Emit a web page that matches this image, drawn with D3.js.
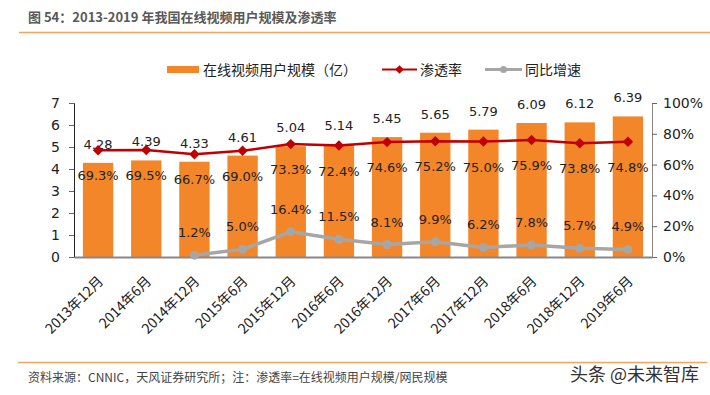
<!DOCTYPE html>
<html><head><meta charset="utf-8">
<script src="https://cdn.jsdelivr.net/npm/d3@7"></script>
<style>body{margin:0;background:#fff}svg{display:block}</style>
</head><body>
<script>
const categories = ["2013年12月","2014年6月","2014年12月","2015年6月","2015年12月","2016年6月","2016年12月","2017年6月","2017年12月","2018年6月","2018年12月","2019年6月"];
const users = [4.28,4.39,4.33,4.61,5.04,5.14,5.45,5.65,5.79,6.09,6.12,6.39];
const penetration = [69.3,69.5,66.7,69.0,73.3,72.4,74.6,75.2,75.0,75.9,73.8,74.8];
const growth = [null,null,1.2,5.0,16.4,11.5,8.1,9.9,6.2,7.8,5.7,4.9];
const leftTicks = [0,1,2,3,4,5,6,7];
const rightTicks = [0,20,40,60,80,100];

const W=710,H=395;
const svg=d3.select("body").append("svg").attr("width",W).attr("height",H);
const num="'DejaVu Sans', Verdana, sans-serif";
const cjk="'Noto Sans CJK SC', sans-serif";
const orange="#F4862A", red="#C00000", gray="#A6A6A6";

// title
svg.append("text").attr("x",28).attr("y",22).attr("font-family",cjk).attr("font-weight","bold")
  .attr("font-size",13).attr("fill","#595959").text("图 54：2013-2019 年我国在线视频用户规模及渗透率");
svg.append("line").attr("x1",19).attr("x2",710).attr("y1",32.5).attr("y2",32.5).attr("stroke","#F4A460").attr("stroke-width",1.5);

const x=d3.scaleBand().domain(categories).range([74,652]).paddingInner(0.37).paddingOuter(0.185);
const yL=d3.scaleLinear().domain([0,7]).range([257,103]);
const yR=d3.scaleLinear().domain([0,100]).range([257,103]);

// bars
svg.selectAll("rect.bar").data(users).join("rect").attr("class","bar")
  .attr("x",(d,i)=>x(categories[i])).attr("width",x.bandwidth())
  .attr("y",d=>yL(d)).attr("height",d=>yL(0)-yL(d)).attr("fill",orange);

// axes
const gL=svg.append("g").attr("transform","translate(74,0)").call(d3.axisLeft(yL).tickValues(leftTicks).tickSize(5).tickPadding(9).tickFormat(d3.format("d")));
gL.select(".domain").attr("stroke","#222");
gL.selectAll(".tick line").attr("stroke","#666");
gL.selectAll("text").attr("font-family",num).attr("font-size",14).attr("fill","#222");

const gR=svg.append("g").attr("transform","translate(652,0)").call(d3.axisRight(yR).tickValues(rightTicks).tickSize(5).tickPadding(6).tickFormat(d=>d+"%"));
gR.select(".domain").attr("stroke","#888");
gR.selectAll(".tick line").attr("stroke","#666");
gR.selectAll("text").attr("font-family",num).attr("font-size",14).attr("fill","#222");

const gB=svg.append("g").attr("transform","translate(0,257)").call(d3.axisBottom(x).tickSize(0).tickPadding(0));
gB.select(".domain").attr("stroke","#888").attr("stroke-width",2);
gB.selectAll("text").attr("font-family",cjk).attr("font-size",14).attr("fill","#222")
  .attr("text-anchor","end").attr("y",0).attr("dy",0).attr("transform","translate(6,25) rotate(-45)");

// bar labels
svg.selectAll("text.bl").data(users).join("text").attr("class","bl")
  .attr("x",(d,i)=>x(categories[i])+x.bandwidth()/2).attr("y",d=>yL(d)-14)
  .attr("text-anchor","middle").attr("font-family",num).attr("font-size",13).attr("fill","#222").text(d=>d.toFixed(2));

const cx=i=>x(categories[i])+x.bandwidth()/2;
// penetration line
svg.append("path").datum(penetration).attr("fill","none").attr("stroke",red).attr("stroke-width",2.5)
  .attr("d",d3.line().x((d,i)=>cx(i)).y(d=>yR(d)));
svg.selectAll("path.dm").data(penetration).join("path").attr("class","dm")
  .attr("transform",(d,i)=>`translate(${cx(i)},${yR(d)})`)
  .attr("d",d3.symbol(d3.symbolDiamond2,70)()).attr("fill",red);
svg.selectAll("text.pl").data(penetration).join("text").attr("class","pl")
  .attr("x",(d,i)=>cx(i)).attr("y",d=>yR(d)+30)
  .attr("text-anchor","middle").attr("font-family",num).attr("font-size",13).attr("fill","#222").text(d=>d.toFixed(1)+"%");

// growth line
const gIdx=growth.map((d,i)=>[d,i]).filter(p=>p[0]!==null);
svg.append("path").datum(gIdx).attr("fill","none").attr("stroke",gray).attr("stroke-width",3.5)
  .attr("d",d3.line().x(p=>cx(p[1])).y(p=>yR(p[0])));
svg.selectAll("circle.gc").data(gIdx).join("circle").attr("class","gc")
  .attr("cx",p=>cx(p[1])).attr("cy",p=>yR(p[0])).attr("r",4.5).attr("fill",gray);
svg.selectAll("text.gl").data(gIdx).join("text").attr("class","gl")
  .attr("x",p=>cx(p[1])).attr("y",p=>yR(p[0])-18)
  .attr("text-anchor","middle").attr("font-family",num).attr("font-size",13).attr("fill","#222").text(p=>p[0].toFixed(1)+"%");

// legend
const lg=svg.append("g").attr("font-family",cjk).attr("font-size",14).attr("fill","#222");
lg.append("rect").attr("x",167).attr("y",66).attr("width",32).attr("height",7).attr("fill",orange);
lg.append("text").attr("x",203).attr("y",74.5).text("在线视频用户规模（亿）");
lg.append("line").attr("x1",382).attr("x2",417).attr("y1",69.5).attr("y2",69.5).attr("stroke",red).attr("stroke-width",2);
lg.append("path").attr("transform","translate(399.5,69.5)").attr("d",d3.symbol(d3.symbolDiamond2,45)()).attr("fill",red);
lg.append("text").attr("x",420).attr("y",74.5).text("渗透率");
lg.append("line").attr("x1",485).attr("x2",522).attr("y1",69.5).attr("y2",69.5).attr("stroke",gray).attr("stroke-width",3);
lg.append("circle").attr("cx",503.5).attr("cy",69.5).attr("r",3.5).attr("fill",gray);
lg.append("text").attr("x",525).attr("y",74.5).text("同比增速");

// footer
svg.append("line").attr("x1",18).attr("x2",707).attr("y1",362.5).attr("y2",362.5).attr("stroke","#F4A460").attr("stroke-width",1.5);
svg.append("text").attr("x",28).attr("y",382).attr("font-family",cjk).attr("font-size",12).attr("fill","#444")
  .text("资料来源：CNNIC，天风证券研究所；注：渗透率=在线视频用户规模/网民规模");
svg.append("text").attr("x",699).attr("y",381).attr("text-anchor","end").attr("font-family",cjk).attr("font-size",18).attr("fill","#333")
  .text("头条 @未来智库");
</script>
</body></html>
